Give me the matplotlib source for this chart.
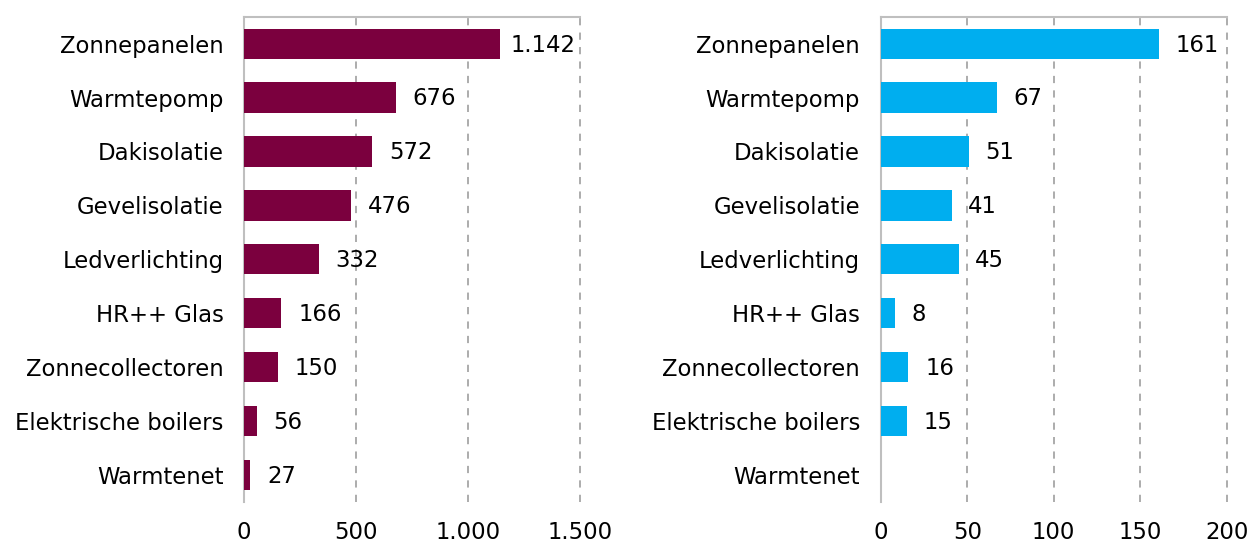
import matplotlib
matplotlib.use("Agg")
import matplotlib.pyplot as plt
from matplotlib.ticker import FuncFormatter
import numpy as np

categories = ["Zonnepanelen", "Warmtepomp", "Dakisolatie", "Gevelisolatie",
              "Ledverlichting", "HR++ Glas", "Zonnecollectoren",
              "Elektrische boilers", "Warmtenet"]
left_values = [1142, 676, 572, 476, 332, 166, 150, 56, 27]
right_values = [161, 67, 51, 41, 45, 8, 16, 15, None]
left_ticks = [0, 500, 1000, 1500]
right_ticks = [0, 50, 100, 150, 200]

plt.rcParams['font.family'] = ['DejaVu Sans']
FS = 16.4

def nl(v):
    return f"{int(v):,}".replace(",", ".")

fig = plt.figure(figsize=(12.5, 5.45), dpi=100)
ax1 = fig.add_axes([0.1954, 0.0789, 0.2686, 0.8905])
ax2 = fig.add_axes([0.7046, 0.0789, 0.2768, 0.8905])

def draw(ax, values, ticks, color):
    y = np.arange(len(categories))
    vals = [0 if v is None else v for v in values]
    ax.barh(y, vals, height=0.56, color=color, zorder=3)
    ax.set_ylim(len(categories) - 0.5, -0.5)
    ax.set_xlim(ticks[0], ticks[-1])
    ax.set_yticks(y)
    ax.set_yticklabels(categories, fontsize=FS)
    ax.set_xticks(ticks)
    ax.xaxis.set_major_formatter(FuncFormatter(lambda v, p: nl(v)))
    ax.tick_params(axis='x', length=0, pad=14, labelsize=FS)
    ax.tick_params(axis='y', length=0, pad=15)
    ax.grid(axis='x', color='#A6A6A6', linestyle=(0, (4, 4)), linewidth=1.3, zorder=0)
    for gl in ax.get_xgridlines():
        gl.set_clip_on(False)
    for s in ['right', 'bottom']:
        ax.spines[s].set_visible(False)
    for s in ['top', 'left']:
        ax.spines[s].set_color('#BFBFBF')
        ax.spines[s].set_linewidth(1.5)
    xmax = ticks[-1]
    for yi, v in zip(y, values):
        if v is None:
            continue
        txt = ax.annotate(nl(v), (v, yi), xytext=(12, -1), textcoords='offset points',
                          va='center', ha='left', fontsize=FS, zorder=4)
        # keep label inside plot
        fig.canvas.draw()
        bb = txt.get_window_extent()
        axr = ax.transData.transform((xmax, 0))[0]
        if bb.x1 > axr - 5:
            shift = (bb.x1 - (axr - 5)) * 72 / fig.dpi
            txt.set_position((12 - shift, -1))

draw(ax1, left_values, left_ticks, '#7B003E')
draw(ax2, right_values, right_ticks, '#00AEEF')

fig.savefig("out.png", dpi=100)
